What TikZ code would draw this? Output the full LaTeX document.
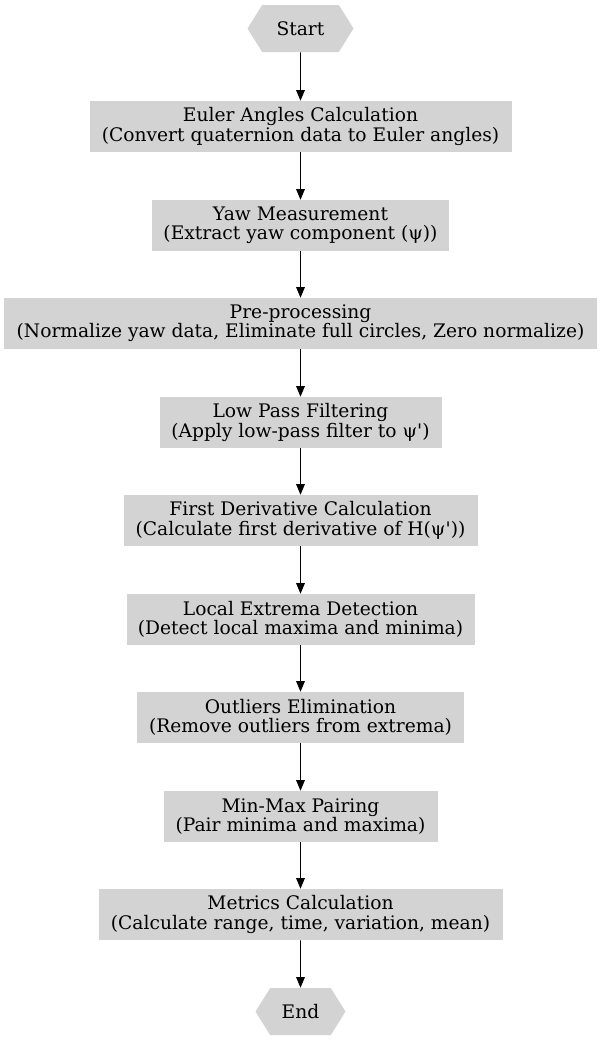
\documentclass[tikz,border=0pt]{standalone}
\usepackage{fontspec}
\setmainfont{DejaVu Serif}
\usetikzlibrary{arrows.meta,shapes.symbols}
\definecolor{gvgray}{RGB}{211,211,211}
\tikzset{
  box/.style={rectangle, fill=gvgray, minimum height=38.25pt, inner xsep=0pt, inner ysep=0pt, align=center, font=\fontsize{14}{14.5}\selectfont},
  term/.style={signal, signal to=east and west, signal pointer angle=116, fill=gvgray, minimum height=35.25pt, inner xsep=0pt, font=\fontsize{14}{14.5}\selectfont},
  flow/.style={-{Triangle[length=8pt,width=6.5pt]}, line width=0.7pt}
}
\begin{document}
\begin{tikzpicture}[x=0.75pt, y=-0.75pt]
\useasboundingbox (0,0) rectangle (601,1043);
\node[term, minimum width=79.5pt] (fid0) at (300.5,28.5){Start};
\node[box, minimum width=316.5pt] (fid1) at (300.5,126.5){Euler Angles Calculation\\(Convert quaternion data to Euler angles)};
\node[box, minimum width=222.75pt] (fid2) at (300.5,225.5){Yaw Measurement\\(Extract yaw component (ψ))};
\node[box, minimum width=444.75pt] (fid3) at (300.5,323.5){Pre-processing\\(Normalize yaw data, Eliminate full circles, Zero normalize)};
\node[box, minimum width=211.5pt] (fid4) at (300.5,422.5){Low Pass Filtering\\(Apply low-pass filter to ψ\textquotesingle)};
\node[box, minimum width=265.5pt] (fid5) at (300.5,520.5){First Derivative Calculation\\(Calculate first derivative of H(ψ\textquotesingle))};
\node[box, minimum width=261pt] (fid6) at (300.5,619.5){Local Extrema Detection\\(Detect local maxima and minima)};
\node[box, minimum width=245.25pt] (fid7) at (300.5,717.5){Outliers Elimination\\(Remove outliers from extrema)};
\node[box, minimum width=205.5pt] (fid8) at (300.5,816.5){Min-Max Pairing\\(Pair minima and maxima)};
\node[box, minimum width=303pt] (fid9) at (300.5,914.5){Metrics Calculation\\(Calculate range, time, variation, mean)};
\node[term, minimum width=67.5pt] (fid10) at (300.5,1011.5){End};
\draw[flow] (fid0) -- (fid1);
\draw[flow] (fid1) -- (fid2);
\draw[flow] (fid2) -- (fid3);
\draw[flow] (fid3) -- (fid4);
\draw[flow] (fid4) -- (fid5);
\draw[flow] (fid5) -- (fid6);
\draw[flow] (fid6) -- (fid7);
\draw[flow] (fid7) -- (fid8);
\draw[flow] (fid8) -- (fid9);
\draw[flow] (fid9) -- (fid10);
\end{tikzpicture}
\end{document}
